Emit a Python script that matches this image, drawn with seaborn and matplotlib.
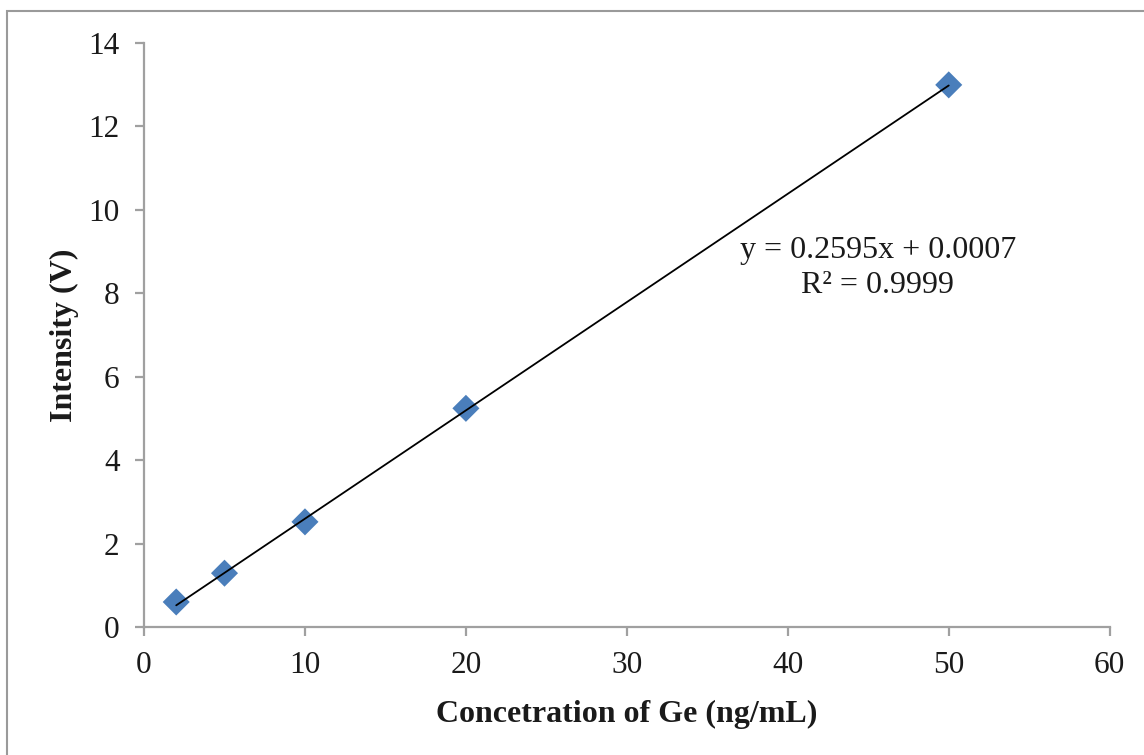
import matplotlib
matplotlib.use("Agg")
import matplotlib.pyplot as plt
import seaborn as sns
import pandas as pd
import numpy as np
from matplotlib.patches import Rectangle

# Calibration standards for germanium
concentration = [2, 5, 10, 20, 50]          # ng/mL
intensity = [0.60, 1.29, 2.52, 5.24, 12.99]  # V

# Linear trendline parameters
slope = 0.2595
intercept = 0.0007
r_squared = 0.9999

x_ticks = [0, 10, 20, 30, 40, 50, 60]
y_ticks = [0, 2, 4, 6, 8, 10, 12, 14]

sns.set_theme(style="white")
plt.rcParams["font.family"] = ["Liberation Serif", "DejaVu Serif"]

fig = plt.figure(figsize=(11.44, 7.55), dpi=100)
ax = fig.add_axes([0.1259, 0.1695, 0.8441, 0.7739])

points = pd.DataFrame({"x": concentration, "y": intensity})
fit_x = np.array([min(concentration), max(concentration)])
fit = pd.DataFrame({"x": fit_x, "y": slope * fit_x + intercept})

sns.lineplot(data=fit, x="x", y="y", color="black", linewidth=1.3, ax=ax, zorder=3)
sns.scatterplot(data=points, x="x", y="y", marker="D", s=190, color="#4A7EBB",
                edgecolor="none", ax=ax, zorder=2)

ax.set_xlim(0, 60)
ax.set_ylim(0, 14)
ax.set_xticks(x_ticks)
ax.set_yticks(y_ticks)

spine_color = "#A0A0A0"
for side in ["top", "right"]:
    ax.spines[side].set_visible(False)
for side in ["left", "bottom"]:
    ax.spines[side].set_color(spine_color)
    ax.spines[side].set_linewidth(1.6)

ax.tick_params(axis="both", which="major", direction="out", length=6.5, width=1.6,
               color=spine_color, labelsize=22.5, labelcolor="#1a1a1a", pad=11,
               left=True, bottom=True)

ax.set_xlabel("Concetration of Ge (ng/mL)", fontsize=23, fontweight="bold",
              color="#1a1a1a", labelpad=14)
ax.set_ylabel("Intensity (V)", fontsize=23, fontweight="bold",
              color="#1a1a1a", labelpad=7)

ax.text(45.6, 8.6, f"y = {slope}x + {intercept}\nR² = {r_squared}",
        fontsize=23, color="#1a1a1a", ha="center", va="center",
        linespacing=1.3, transform=ax.transData)

# Chart area outline
fig.patches.append(Rectangle((6.5 / 1144, -0.1), 1.2, 1 - 11 / 755 + 0.1,
                             transform=fig.transFigure, fill=False,
                             edgecolor="#9a9a9a", linewidth=1.5))

fig.savefig("out.png", dpi=100)
